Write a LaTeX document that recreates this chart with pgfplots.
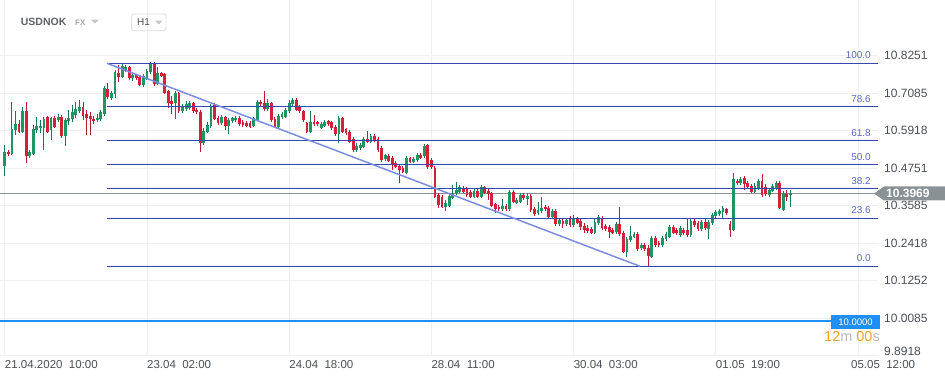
\documentclass[border=0pt]{standalone}
\usepackage{pgfplots}
\pgfplotsset{compat=1.18}
\usepackage{pgfplotstable}
\usepackage{fontspec}
\setmainfont{Liberation Sans}
\definecolor{upfill}{HTML}{1E9563}
\definecolor{upline}{HTML}{167A52}
\definecolor{dnfill}{HTML}{D62039}
\definecolor{dnline}{HTML}{B81A30}
\definecolor{fib}{HTML}{3647B2}
\definecolor{fibtxt}{HTML}{5A68C4}
\definecolor{trend}{HTML}{7B8DE0}
\definecolor{cur}{HTML}{8A9195}
\definecolor{gridc}{HTML}{EFEFEF}
\definecolor{lbl}{HTML}{4A4F55}
\definecolor{bluel}{HTML}{1E8FF5}
\definecolor{orng}{HTML}{F5A524}
\pgfplotstableread[row sep=\\]{
i o h l c\\
0 10.483 10.548 10.450 10.526\\
1 10.526 10.533 10.514 10.520\\
2 10.521 10.682 10.517 10.597\\
3 10.594 10.652 10.579 10.613\\
4 10.613 10.626 10.585 10.589\\
5 10.589 10.667 10.585 10.654\\
6 10.654 10.682 10.493 10.512\\
7 10.512 10.533 10.508 10.526\\
8 10.521 10.610 10.517 10.597\\
9 10.594 10.635 10.585 10.608\\
10 10.600 10.626 10.585 10.607\\
11 10.600 10.636 10.533 10.629\\
12 10.634 10.638 10.585 10.589\\
13 10.593 10.635 10.563 10.631\\
14 10.632 10.638 10.601 10.605\\
15 10.625 10.645 10.620 10.636\\
16 10.636 10.642 10.569 10.576\\
17 10.577 10.632 10.543 10.626\\
18 10.621 10.656 10.610 10.631\\
19 10.628 10.672 10.620 10.649\\
20 10.642 10.682 10.632 10.659\\
21 10.654 10.688 10.648 10.667\\
22 10.665 10.682 10.626 10.638\\
23 10.644 10.656 10.579 10.633\\
24 10.638 10.651 10.579 10.629\\
25 10.629 10.638 10.613 10.621\\
26 10.625 10.645 10.620 10.633\\
27 10.628 10.656 10.623 10.649\\
28 10.644 10.732 10.638 10.725\\
29 10.722 10.740 10.691 10.698\\
30 10.695 10.716 10.688 10.709\\
31 10.706 10.781 10.693 10.774\\
32 10.771 10.797 10.745 10.760\\
33 10.760 10.800 10.756 10.794\\
34 10.781 10.797 10.775 10.791\\
35 10.789 10.794 10.751 10.755\\
36 10.755 10.772 10.747 10.765\\
37 10.765 10.768 10.751 10.755\\
38 10.758 10.762 10.732 10.733\\
39 10.733 10.768 10.729 10.762\\
40 10.755 10.784 10.751 10.778\\
41 10.774 10.807 10.768 10.800\\
42 10.800 10.805 10.732 10.738\\
43 10.738 10.791 10.735 10.771\\
44 10.771 10.775 10.759 10.762\\
45 10.768 10.772 10.707 10.711\\
46 10.716 10.719 10.662 10.677\\
47 10.685 10.700 10.644 10.676\\
48 10.679 10.716 10.629 10.709\\
49 10.709 10.713 10.648 10.652\\
50 10.652 10.675 10.648 10.667\\
51 10.659 10.685 10.654 10.674\\
52 10.663 10.685 10.656 10.677\\
53 10.677 10.681 10.648 10.652\\
54 10.656 10.663 10.645 10.650\\
55 10.650 10.656 10.527 10.554\\
56 10.554 10.601 10.548 10.592\\
57 10.589 10.620 10.585 10.610\\
58 10.607 10.675 10.601 10.667\\
59 10.672 10.678 10.626 10.629\\
60 10.633 10.638 10.610 10.615\\
61 10.615 10.642 10.610 10.635\\
62 10.635 10.638 10.594 10.608\\
63 10.608 10.632 10.582 10.626\\
64 10.621 10.635 10.616 10.631\\
65 10.624 10.638 10.620 10.631\\
66 10.631 10.638 10.607 10.613\\
67 10.619 10.626 10.604 10.610\\
68 10.615 10.623 10.604 10.608\\
69 10.615 10.623 10.601 10.605\\
70 10.608 10.635 10.604 10.631\\
71 10.626 10.688 10.623 10.682\\
72 10.682 10.688 10.669 10.674\\
73 10.677 10.716 10.654 10.659\\
74 10.659 10.690 10.654 10.677\\
75 10.677 10.681 10.620 10.624\\
76 10.629 10.635 10.601 10.605\\
77 10.605 10.645 10.601 10.638\\
78 10.634 10.651 10.629 10.645\\
79 10.636 10.663 10.632 10.656\\
80 10.652 10.688 10.648 10.677\\
81 10.674 10.694 10.669 10.688\\
82 10.688 10.694 10.654 10.658\\
83 10.667 10.672 10.648 10.652\\
84 10.652 10.656 10.620 10.626\\
85 10.615 10.620 10.585 10.589\\
86 10.589 10.654 10.585 10.619\\
87 10.619 10.642 10.607 10.612\\
88 10.619 10.623 10.607 10.612\\
89 10.602 10.620 10.598 10.612\\
90 10.608 10.626 10.604 10.619\\
91 10.621 10.626 10.607 10.612\\
92 10.619 10.623 10.594 10.600\\
93 10.605 10.610 10.576 10.582\\
94 10.582 10.638 10.554 10.631\\
95 10.631 10.635 10.585 10.589\\
96 10.597 10.601 10.579 10.584\\
97 10.589 10.594 10.555 10.558\\
98 10.566 10.572 10.526 10.533\\
99 10.533 10.555 10.526 10.546\\
100 10.538 10.555 10.533 10.548\\
101 10.543 10.572 10.539 10.566\\
102 10.565 10.591 10.555 10.558\\
103 10.558 10.582 10.555 10.576\\
104 10.576 10.582 10.557 10.563\\
105 10.565 10.572 10.526 10.533\\
106 10.538 10.545 10.495 10.501\\
107 10.504 10.520 10.498 10.515\\
108 10.515 10.520 10.495 10.499\\
109 10.507 10.514 10.470 10.486\\
110 10.491 10.498 10.476 10.480\\
111 10.482 10.489 10.429 10.470\\
112 10.475 10.482 10.460 10.464\\
113 10.462 10.514 10.457 10.507\\
114 10.507 10.511 10.492 10.496\\
115 10.496 10.511 10.492 10.504\\
116 10.501 10.523 10.495 10.517\\
117 10.517 10.523 10.504 10.508\\
118 10.512 10.552 10.508 10.545\\
119 10.548 10.552 10.473 10.478\\
120 10.501 10.508 10.473 10.478\\
121 10.475 10.482 10.383 10.387\\
122 10.392 10.398 10.352 10.361\\
123 10.387 10.392 10.352 10.355\\
124 10.356 10.376 10.341 10.368\\
125 10.358 10.395 10.354 10.389\\
126 10.384 10.424 10.380 10.399\\
127 10.397 10.434 10.392 10.408\\
128 10.402 10.424 10.398 10.418\\
129 10.413 10.421 10.398 10.402\\
130 10.411 10.417 10.386 10.392\\
131 10.402 10.408 10.383 10.387\\
132 10.387 10.411 10.383 10.405\\
133 10.405 10.411 10.383 10.387\\
134 10.387 10.424 10.383 10.418\\
135 10.416 10.421 10.395 10.399\\
136 10.405 10.411 10.376 10.395\\
137 10.397 10.402 10.354 10.358\\
138 10.364 10.367 10.337 10.349\\
139 10.356 10.361 10.343 10.348\\
140 10.348 10.380 10.343 10.358\\
141 10.358 10.364 10.343 10.349\\
142 10.348 10.408 10.343 10.402\\
143 10.401 10.408 10.367 10.371\\
144 10.368 10.383 10.364 10.376\\
145 10.371 10.398 10.367 10.392\\
146 10.392 10.398 10.376 10.382\\
147 10.380 10.398 10.361 10.390\\
148 10.389 10.395 10.340 10.344\\
149 10.348 10.355 10.327 10.333\\
150 10.336 10.370 10.330 10.346\\
151 10.341 10.387 10.337 10.351\\
152 10.356 10.361 10.343 10.348\\
153 10.351 10.358 10.321 10.325\\
154 10.325 10.349 10.321 10.343\\
155 10.343 10.349 10.296 10.301\\
156 10.301 10.321 10.296 10.314\\
157 10.311 10.318 10.289 10.301\\
158 10.301 10.321 10.296 10.314\\
159 10.320 10.327 10.293 10.299\\
160 10.299 10.330 10.293 10.320\\
161 10.317 10.324 10.302 10.306\\
162 10.312 10.318 10.283 10.292\\
163 10.297 10.305 10.274 10.283\\
164 10.290 10.299 10.274 10.280\\
165 10.287 10.293 10.271 10.275\\
166 10.275 10.318 10.271 10.309\\
167 10.304 10.330 10.299 10.325\\
168 10.322 10.327 10.283 10.288\\
169 10.296 10.302 10.280 10.285\\
170 10.293 10.299 10.258 10.278\\
171 10.283 10.289 10.271 10.275\\
172 10.276 10.308 10.271 10.302\\
173 10.302 10.356 10.264 10.271\\
174 10.273 10.280 10.212 10.216\\
175 10.216 10.261 10.199 10.255\\
176 10.253 10.296 10.246 10.264\\
177 10.262 10.277 10.258 10.271\\
178 10.271 10.277 10.218 10.224\\
179 10.227 10.243 10.221 10.237\\
180 10.237 10.243 10.218 10.224\\
181 10.227 10.237 10.171 10.203\\
182 10.200 10.264 10.196 10.258\\
183 10.258 10.264 10.231 10.237\\
184 10.242 10.250 10.231 10.235\\
185 10.237 10.264 10.231 10.258\\
186 10.256 10.277 10.250 10.271\\
187 10.262 10.299 10.258 10.292\\
188 10.292 10.299 10.271 10.275\\
189 10.283 10.289 10.267 10.273\\
190 10.267 10.296 10.261 10.288\\
191 10.283 10.289 10.267 10.273\\
192 10.283 10.318 10.261 10.267\\
193 10.267 10.318 10.261 10.311\\
194 10.311 10.318 10.293 10.299\\
195 10.306 10.311 10.280 10.285\\
196 10.285 10.314 10.280 10.307\\
197 10.307 10.320 10.283 10.288\\
198 10.286 10.314 10.256 10.307\\
199 10.304 10.337 10.299 10.330\\
200 10.327 10.346 10.321 10.338\\
201 10.333 10.349 10.327 10.341\\
202 10.338 10.358 10.318 10.351\\
203 10.348 10.352 10.330 10.336\\
204 10.302 10.311 10.262 10.283\\
205 10.283 10.462 10.280 10.441\\
206 10.436 10.442 10.424 10.429\\
207 10.429 10.449 10.424 10.441\\
208 10.445 10.452 10.408 10.426\\
209 10.429 10.436 10.411 10.416\\
210 10.420 10.427 10.398 10.402\\
211 10.402 10.430 10.398 10.420\\
212 10.413 10.442 10.408 10.436\\
213 10.436 10.459 10.386 10.392\\
214 10.418 10.427 10.389 10.394\\
215 10.392 10.414 10.386 10.408\\
216 10.406 10.427 10.402 10.420\\
217 10.413 10.436 10.408 10.429\\
218 10.429 10.436 10.349 10.351\\
219 10.346 10.405 10.343 10.398\\
220 10.395 10.409 10.373 10.387\\
221 10.392 10.408 10.355 10.397\\
}\candles
\pgfplotsset{
  wick/.style={draw=none, mark=none, forget plot,
    error bars/.cd, y dir=both, y explicit, error mark=none,
    error bar style={draw=#1, line width=1pt}},
  body/.style={draw=none, mark=none, forget plot,
    error bars/.cd, y dir=both, y explicit, error mark=none,
    error bar style={draw=#1, line width=2.8pt}},
}
\begin{document}
\begin{tikzpicture}
\useasboundingbox (0pt,0pt) rectangle (945pt,382pt);
\begin{axis}[
  at={(0pt,26.2pt)}, anchor=south west,
  scale only axis, width=878pt, height=355.8pt,
  xmin=-1.35, xmax=245.63, ymin=9.8918, ymax=10.9988,
  axis line style={draw=none}, tick style={draw=none},
  grid=major, major grid style={draw=gridc, line width=0.8pt},
  xtick={0,40,80,120,160,200,240},
  xticklabels={21.04.2020\ \ 10:00,23.04\ \ 02:00,24.04\ \ 18:00,28.04\ \ 11:00,30.04\ \ 03:00,01.05\ \ 19:00,\hspace*{-7pt}05.05\ \ 12:00},
  xticklabel style={anchor=north west, inner sep=0pt, yshift=-4pt, font=\fontsize{11.5}{12}\selectfont, text=lbl},
  ytick={10.0085,10.1252,10.2418,10.3585,10.4751,10.5918,10.7085,10.8251},
  yticklabels={10.0085,10.1252,10.2418,10.3585,10.4751,10.5918,10.7085,10.8251},
  extra y ticks={9.8918}, extra y tick labels={9.8918},
  extra y tick style={yticklabel style={yshift=4pt}},
  yticklabel pos=right,
  yticklabel style={anchor=west, inner sep=0pt, xshift=6pt, font=\fontsize{12}{12}\selectfont, text=lbl},
]
% 10.0000 blue line
\addplot[bluel, line width=1.2pt, forget plot] coordinates {(-1.35,10.0000) (232.4,10.0000)};
% current price
\addplot[cur, line width=1.2pt, forget plot] coordinates {(-1.35,10.3969) (245.63,10.3969)};
% wicks
\addplot[restrict expr to domain={\thisrow{c}-\thisrow{o}}{0:1}, wick=upline]
  table[x=i, y expr={(\thisrow{h}+\thisrow{l})/2}, y error expr={(\thisrow{h}-\thisrow{l})/2}] {\candles};
\addplot[restrict expr to domain={\thisrow{c}-\thisrow{o}}{-1:0}, wick=dnline]
  table[x=i, y expr={(\thisrow{h}+\thisrow{l})/2}, y error expr={(\thisrow{h}-\thisrow{l})/2}] {\candles};
% bodies
\addplot[restrict expr to domain={\thisrow{c}-\thisrow{o}}{0:1}, body=upfill]
  table[x=i, y expr={(\thisrow{o}+\thisrow{c})/2}, y error expr={max(abs(\thisrow{c}-\thisrow{o})/2,0.0016)}] {\candles};
\addplot[restrict expr to domain={\thisrow{c}-\thisrow{o}}{-1:0}, body=dnfill]
  table[x=i, y expr={(\thisrow{o}+\thisrow{c})/2}, y error expr={max(abs(\thisrow{c}-\thisrow{o})/2,0.0016)}] {\candles};
% Fibonacci levels
\addplot[fib, line width=1.1pt, forget plot] coordinates {(28.75,10.8018) (245.63,10.8018)};
\addplot[fib, line width=1.1pt, forget plot] coordinates {(28.75,10.6666) (245.63,10.6666)};
\addplot[fib, line width=1.1pt, forget plot] coordinates {(28.75,10.5605) (245.63,10.5605)};
\addplot[fib, line width=1.1pt, forget plot] coordinates {(28.75,10.4860) (245.63,10.4860)};
\addplot[fib, line width=1.1pt, forget plot] coordinates {(28.75,10.4115) (245.63,10.4115)};
\addplot[fib, line width=1.1pt, forget plot] coordinates {(28.75,10.3193) (245.63,10.3193)};
\addplot[fib, line width=1.1pt, forget plot] coordinates {(28.75,10.1702) (245.63,10.1702)};
% trend line
\addplot[trend, line width=1.5pt, forget plot] coordinates {(28.75,10.8018) (178.7,10.1702)};
% fib labels
\begin{scope}[every node/.style={anchor=base east, inner sep=0pt, font=\fontsize{10}{10}\selectfont, text=fibtxt, yshift=4.5pt}]
\node at (axis cs:243.65,10.8018) {100.0};
\node at (axis cs:243.65,10.6666) {78.6};
\node at (axis cs:243.65,10.5605) {61.8};
\node at (axis cs:243.65,10.4860) {50.0};
\node at (axis cs:243.65,10.4115) {38.2};
\node at (axis cs:243.65,10.3193) {23.6};
\node at (axis cs:243.65,10.1702) {0.0};
\end{scope}
\end{axis}
% header
\node[anchor=west, inner sep=0pt, font=\bfseries\fontsize{10.5}{11}\selectfont, text=lbl!90] at (20.7pt,359.7pt) {USDNOK};
\node[anchor=west, inner sep=0pt, font=\bfseries\fontsize{8}{9}\selectfont, text=black!35] at (75pt,359.7pt) {FX};
\fill[black!22] (91pt,362.3pt) -- (99pt,362.3pt) -- (95pt,358.3pt) -- cycle;
\draw[black!14, line width=0.8pt, rounded corners=2pt] (131.7pt,368pt) rectangle (166pt,351.3pt);
\node[anchor=west, inner sep=0pt, font=\fontsize{10}{11}\selectfont, text=lbl] at (137pt,359.7pt) {H1};
\fill[black!22] (155pt,361.3pt) -- (162.7pt,361.3pt) -- (158.8pt,357.5pt) -- cycle;
% current price label
\fill[cur] (874pt,188.5pt) -- (884pt,195.5pt) -- (945pt,195.5pt) -- (945pt,181.5pt) -- (884pt,181.5pt) -- cycle;
\node[anchor=west, inner sep=0pt, font=\bfseries\fontsize{12}{12}\selectfont, text=white] at (886pt,188.5pt) {10.3969};
% 10.0000 label
\fill[bluel] (831pt,52.5pt) rectangle (880pt,67pt);
\node[inner sep=0pt, font=\fontsize{9.5}{10}\selectfont, text=white] at (855.5pt,59.8pt) {10.0000};
\node[anchor=east, inner sep=0pt, font=\fontsize{14.5}{15}\selectfont] at (880pt,45.5pt) {\textcolor{orng}{12}\textcolor{black!28}{m} \textcolor{orng}{00}\textcolor{black!28}{s}};
\end{tikzpicture}
\end{document}
